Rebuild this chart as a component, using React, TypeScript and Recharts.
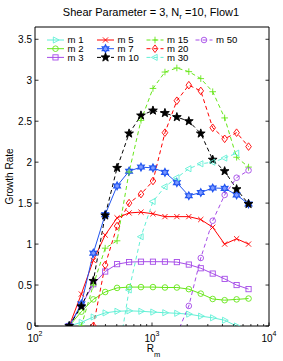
import React from 'react';
import { LineChart, Line, XAxis, YAxis, Legend, Label } from 'recharts';

// ---------- data ----------
const Rm = [196, 249, 315, 398, 503, 637, 805, 1019, 1290, 1631, 2064, 2611, 3303, 4178, 5286, 6687];
const m1 = [0, 0.045, 0.11, 0.16, 0.18, 0.185, 0.18, 0.17, 0.162, 0.155, 0.145, 0.12, 0.1, 0.07, 0, null];
const m2 = [0, 0.175, 0.325, 0.415, 0.465, 0.475, 0.475, 0.475, 0.47, 0.47, 0.45, 0.395, 0.33, 0.315, 0.325, 0.335];
const m3 = [0, 0.25, 0.51, 0.665, 0.755, 0.78, 0.785, 0.785, 0.785, 0.78, 0.75, 0.705, 0.64, 0.575, 0.5, 0.45];
const m5 = [0, 0.39, 0.8, 1.11, 1.32, 1.38, 1.39, 1.37, 1.335, 1.335, 1.335, 1.3, 1.205, 1.0, 1.065, 1.0];
const m7 = [0, 0.27, 0.89, 1.36, 1.71, 1.89, 1.94, 1.93, 1.875, 1.75, 1.59, 1.63, 1.685, 1.68, 1.6, 1.49];
const m10 = [0, 0.24, 0.55, 1.35, 1.93, 2.35, 2.57, 2.63, 2.6, 2.55, 2.5, 2.35, 2.03, 1.89, 1.67, 1.49];
const m15 = [null, 0, 0.5, 0.95, 1.04, 1.88, 2.51, 2.9, 3.1, 3.15, 3.105, 3.02, 2.86, 2.54, 2.06, 1.94];
const m20 = [null, null, 0, 0.745, 1.22, 1.5, 1.61, 1.77, 2.36, 2.75, 2.94, 2.87, 2.42, 2.285, 2.36, 2.19];
const m30 = [null, null, null, null, -0.45, 0.44, 1.09, 1.52, 1.7, 1.81, 1.92, 1.98, 2.0, 2.05, 2.11, null];
const m50 = [null, null, null, null, null, null, null, null, null, -0.1, 0.245, 0.83, 1.285, 1.6, 1.81, 1.9];

const seriesKeys = ['m1', 'm2', 'm3', 'm5', 'm7', 'm10', 'm15', 'm20', 'm30', 'm50'];
const seriesNames = ['m 1', 'm 2', 'm 3', 'm 5', 'm 7', 'm 10', 'm 15', 'm 20', 'm 30', 'm 50'];
const seriesValues = [m1, m2, m3, m5, m7, m10, m15, m20, m30, m50];

const xTicks = [100, 200, 300, 400, 500, 600, 700, 800, 900, 1000, 2000, 3000, 4000, 5000, 6000, 7000, 8000, 9000, 10000];
const yTicks = [0, 0.5, 1, 1.5, 2, 2.5, 3, 3.5];
const titleMain = 'Shear Parameter = 3, N';
const titleSub = 'r';
const titleRest = ' =10, Flow1';
const xLabelMain = 'R';
const xLabelSub = 'm';
const yLabel = 'Growth Rate';

// ---------- styles ----------
const FONT = "'Liberation Sans', Arial, Helvetica, sans-serif";
const CYAN = '#62f0d6';
const GREEN = '#66e619';
const PURPLE = '#a64ce8';
const RED = '#ff0000';
const BLUE = '#2255f0';
const BLACK = '#000000';

const styles: Record<string, { color: string; shape: string; dash?: string; fill?: string }> = {
  m1: { color: CYAN, shape: 'triR' },
  m2: { color: GREEN, shape: 'circle' },
  m3: { color: PURPLE, shape: 'square' },
  m5: { color: RED, shape: 'x' },
  m7: { color: BLUE, shape: 'star6' },
  m10: { color: BLACK, shape: 'star5', dash: '4 3', fill: BLACK },
  m15: { color: GREEN, shape: 'plus', dash: '4 3' },
  m20: { color: RED, shape: 'diamond', dash: '4 3' },
  m30: { color: CYAN, shape: 'triL', dash: '4 3' },
  m50: { color: PURPLE, shape: 'circle', dash: '4 3' },
};

const data = Rm.map((R, i) => {
  const row: Record<string, number | null> = { R };
  seriesKeys.forEach((k, j) => {
    row[k] = seriesValues[j][i];
  });
  return row;
});

function starPoints(cx: number, cy: number, n: number, R: number, r: number) {
  const pts: string[] = [];
  for (let i = 0; i < 2 * n; i++) {
    const rad = i % 2 === 0 ? R : r;
    const a = -Math.PI / 2 + (i * Math.PI) / n;
    pts.push(`${(cx + rad * Math.cos(a)).toFixed(2)},${(cy + rad * Math.sin(a)).toFixed(2)}`);
  }
  return pts.join(' ');
}

function Marker({ shape, cx, cy, color, fill }: { shape: string; cx: number; cy: number; color: string; fill?: string }) {
  const sw = 0.9;
  const f = fill || 'none';
  switch (shape) {
    case 'triR': {
      const r = 3.6;
      return <polygon points={`${cx + r},${cy} ${cx - r * 0.6},${cy - r * 0.85} ${cx - r * 0.6},${cy + r * 0.85}`} fill={f} stroke={color} strokeWidth={sw} />;
    }
    case 'triL': {
      const r = 3.6;
      return <polygon points={`${cx - r},${cy} ${cx + r * 0.6},${cy - r * 0.85} ${cx + r * 0.6},${cy + r * 0.85}`} fill={f} stroke={color} strokeWidth={sw} />;
    }
    case 'circle':
      return <circle cx={cx} cy={cy} r={2.8} fill={f} stroke={color} strokeWidth={sw} />;
    case 'square':
      return <rect x={cx - 2.6} y={cy - 2.6} width={5.2} height={5.2} fill={f} stroke={color} strokeWidth={sw} />;
    case 'x':
      return (
        <g stroke={color} strokeWidth={sw}>
          <line x1={cx - 2.6} y1={cy - 2.6} x2={cx + 2.6} y2={cy + 2.6} />
          <line x1={cx - 2.6} y1={cy + 2.6} x2={cx + 2.6} y2={cy - 2.6} />
        </g>
      );
    case 'plus':
      return (
        <g stroke={color} strokeWidth={sw}>
          <line x1={cx - 3.3} y1={cy} x2={cx + 3.3} y2={cy} />
          <line x1={cx} y1={cy - 3.3} x2={cx} y2={cy + 3.3} />
        </g>
      );
    case 'diamond':
      return <polygon points={`${cx},${cy - 3.8} ${cx + 2.8},${cy} ${cx},${cy + 3.8} ${cx - 2.8},${cy}`} fill={f} stroke={color} strokeWidth={sw} />;
    case 'star5':
      return <polygon points={starPoints(cx, cy, 5, 4.6, 1.9)} fill={f} stroke={color} strokeWidth={sw} />;
    case 'star6':
      return <polygon points={starPoints(cx, cy, 6, 3.8, 2.1)} fill="#7f9bff" stroke={color} strokeWidth={1.2} />;
    default:
      return null;
  }
}

const makeDot = (key: string) => (props: any) => {
  const st = styles[key];
  const { cx, cy, index } = props;
  if (cx == null || cy == null || isNaN(cx) || isNaN(cy)) return <g key={`${key}-${index}`} />;
  return (
    <g key={`${key}-${index}`}>
      <Marker shape={st.shape} cx={cx} cy={cy} color={st.color} fill={st.fill} />
    </g>
  );
};

const isMajor = (v: number) => Math.abs(Math.log10(v) - Math.round(Math.log10(v))) < 1e-9;

const XTickBottom = (props: any) => {
  const { x, y, payload } = props;
  const v = payload.value;
  const major = isMajor(v);
  return (
    <g>
      <line x1={x} x2={x} y1={y} y2={y - (major ? 3.5 : 2)} stroke="#000" strokeWidth={0.8} />
      {major && (
        <text x={x} y={y + 16} textAnchor="middle" fontSize={10} fontFamily={FONT} fill="#000">
          10
          <tspan dy={-6} fontSize={7}>{Math.round(Math.log10(v))}</tspan>
        </text>
      )}
    </g>
  );
};

const XTickTop = (props: any) => {
  const { x, y, payload } = props;
  const major = isMajor(payload.value);
  return <line x1={x} x2={x} y1={y} y2={y + (major ? 3.5 : 2)} stroke="#000" strokeWidth={0.8} />;
};

const YTickLeft = (props: any) => {
  const { x, y, payload } = props;
  return (
    <g>
      <line x1={x} x2={x + 3.5} y1={y} y2={y} stroke="#000" strokeWidth={0.8} />
      <text x={x - 3} y={y + 3.5} textAnchor="end" fontSize={10} fontFamily={FONT} fill="#000">
        {String(payload.value)}
      </text>
    </g>
  );
};

const YTickRight = (props: any) => {
  const { x, y } = props;
  return <line x1={x} x2={x - 3.5} y1={y} y2={y} stroke="#000" strokeWidth={0.8} />;
};

const TitleContent = (props: any) => {
  const vb = props.viewBox || { x: 35, y: 0, width: 234, height: 27 };
  return (
    <text x={vb.x + vb.width / 2 - 1} y={16} textAnchor="middle" fontSize={11} fontFamily={FONT} fill="#000">
      {titleMain}
      <tspan dy={3} fontSize={8}>{titleSub}</tspan>
      <tspan dy={-3}>{titleRest}</tspan>
    </text>
  );
};

const XLabelContent = (props: any) => {
  const vb = props.viewBox || { x: 35, y: 326, width: 234, height: 35 };
  return (
    <text x={vb.x + vb.width / 2 - 5.3} y={vb.y + 26} textAnchor="start" fontSize={10} fontFamily={FONT} fill="#000">
      {xLabelMain}
      <tspan dy={4.5} fontSize={7.5}>{xLabelSub}</tspan>
    </text>
  );
};

const YLabelContent = (props: any) => {
  const vb = props.viewBox || { x: 0, y: 27, width: 35, height: 299 };
  const cy = vb.y + vb.height / 2;
  return (
    <text x={12.5} y={cy} transform={`rotate(-90 12.5 ${cy})`} textAnchor="middle" fontSize={10} fontFamily={FONT} fill="#000">
      {yLabel}
    </text>
  );
};

const LegendContent = () => {
  const colX = [47, 97, 146.5, 195.5];
  const rowY = [40, 48.7, 57.4];
  return (
    <svg width={283} height={70} style={{ overflow: 'visible' }}>
      {seriesKeys.map((k, i) => {
        const col = Math.floor(i / 3);
        const row = i % 3;
        const x0 = colX[col];
        const y0 = rowY[row];
        const st = styles[k];
        return (
          <g key={k}>
            <line x1={x0} x2={x0 + 17} y1={y0} y2={y0} stroke={st.color} strokeWidth={1} strokeDasharray={st.dash} />
            <Marker shape={st.shape} cx={x0 + 8.5} cy={y0} color={st.color} fill={st.fill} />
            <text x={x0 + 20.5} y={y0 + 3.4} fontSize={9.6} fontFamily={FONT} fill="#000">
              {seriesNames[i]}
            </text>
          </g>
        );
      })}
    </svg>
  );
};

export default function App() {
  return (
    <div style={{ position: 'absolute', left: 0, top: 0, width: 283, height: 361, background: '#fff' }}>
      <LineChart width={283} height={361} data={data} margin={{ top: 0, right: 0, bottom: 0, left: 0 }}>
        <XAxis
          dataKey="R"
          type="number"
          scale="log"
          domain={[100, 10000]}
          allowDataOverflow
          ticks={xTicks}
          interval={0}
          height={35}
          tickSize={0}
          tickMargin={0}
          tickLine={false}
          axisLine={{ stroke: '#000', strokeWidth: 1 }}
          tick={XTickBottom}
        >
          <Label content={XLabelContent} />
        </XAxis>
        <XAxis
          xAxisId="top"
          orientation="top"
          type="number"
          scale="log"
          domain={[100, 10000]}
          allowDataOverflow
          ticks={xTicks}
          interval={0}
          height={27}
          tickSize={0}
          tickMargin={0}
          tickLine={false}
          axisLine={{ stroke: '#000', strokeWidth: 1 }}
          tick={XTickTop}
        >
          <Label content={TitleContent} />
        </XAxis>
        <YAxis
          type="number"
          domain={[0, 3.65]}
          allowDataOverflow
          ticks={yTicks}
          interval={0}
          width={35}
          tickSize={0}
          tickMargin={0}
          tickLine={false}
          axisLine={{ stroke: '#000', strokeWidth: 1 }}
          tick={YTickLeft}
        >
          <Label content={YLabelContent} />
        </YAxis>
        <YAxis
          yAxisId="right"
          orientation="right"
          type="number"
          domain={[0, 3.65]}
          allowDataOverflow
          ticks={yTicks}
          interval={0}
          width={14}
          tickSize={0}
          tickMargin={0}
          tickLine={false}
          axisLine={{ stroke: '#000', strokeWidth: 1 }}
          tick={YTickRight}
        />
        <Legend
          layout="horizontal"
          verticalAlign="middle"
          align="center"
          content={LegendContent}
          wrapperStyle={{ position: 'absolute', left: 0, top: 0, width: 283, height: 70, pointerEvents: 'none' }}
        />
        {seriesKeys.map((k, i) => (
          <Line
            key={k}
            name={seriesNames[i]}
            type="linear"
            dataKey={k}
            stroke={styles[k].color}
            strokeWidth={1}
            strokeDasharray={styles[k].dash}
            dot={makeDot(k)}
            activeDot={false}
            isAnimationActive={false}
            connectNulls={false}
          />
        ))}
      </LineChart>
    </div>
  );
}
